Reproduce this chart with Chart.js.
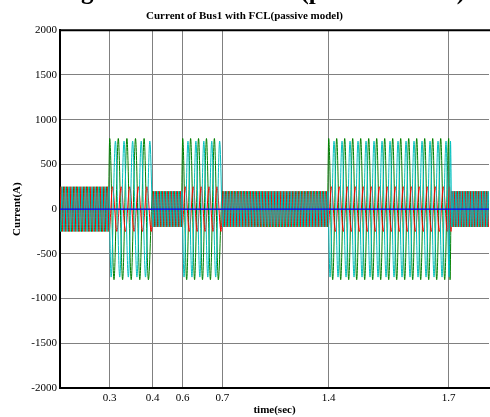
<!DOCTYPE html>
<html>
<head>
<meta charset="utf-8">
<script src="https://cdn.jsdelivr.net/npm/chart.js@4.4.0/dist/chart.umd.min.js"></script>
<style>
body { margin: 0; background: #fff; }
#wrap { width: 490px; height: 417px; }
</style>
</head>
<body>
<div id="wrap"><canvas id="buscurrent"></canvas></div>
<script>
// time axis labels (sec)
var tickTimes = [0.3, 0.4, 0.6, 0.7, 1.4, 1.7];
var tickLabels = ['0.3', '0.4', '0.6', '0.7', '1.4', '1.7'];

// intervals (sec): normal, fault, normal, fault, normal, fault, normal
var segStart = [0, 0.3, 0.4, 0.6, 0.7, 1.4, 1.72];
var segEnd = [0.3, 0.4, 0.6, 0.7, 1.4, 1.72, 2.0];

// peak current of each phase in each interval (A)
var greenPeak = [250, 790, 200, 790, 200, 790, 200];
var redPeak = [250, 250, 200, 250, 200, 250, 200];
var cyanPeak = [250, 760, 200, 760, 200, 760, 200];

// blue trace stays on zero
var blueTimes = [0, 2.0];
var blueValues = [0, 0];

var freq = 50;

// the time axis of the figure is stretched around the faults
var knotTimes = [0, 0.3, 0.4, 0.6, 0.7, 1.4, 1.7, 2.0];
var knotPos = [0, 49.7, 92.7, 122.7, 162.3, 268.7, 388.7, 429];

function toAxis(t) {
    var i = 0;
    while (i < knotTimes.length - 2 && t > knotTimes[i + 1]) i++;
    var f = (t - knotTimes[i]) / (knotTimes[i + 1] - knotTimes[i]);
    return knotPos[i] + f * (knotPos[i + 1] - knotPos[i]);
}

function segIndex(t) {
    for (var i = 0; i < segStart.length; i++) {
        if (t >= segStart[i] && t < segEnd[i]) return i;
    }
    return t < 0 ? 0 : segStart.length - 1;
}

// one point per half cycle, at the peaks
function phaseSeries(peaks, shift) {
    var half = 1 / freq / 2;
    var pts = [];
    for (var k = -2; ; k++) {
        var t = shift + k * half;
        var sign = (k % 2 === 0) ? 1 : -1;
        pts.push({ x: toAxis(t), y: sign * peaks[segIndex(t)] });
        if (t > 2.0) break;
    }
    return pts;
}

var period = 1 / freq;
var serif = '"Liberation Serif", "Times New Roman", serif';

var framePlugin = {
    id: 'frame',
    afterDraw: function (chart) {
        var a = chart.chartArea;
        var ctx = chart.ctx;
        ctx.save();
        ctx.strokeStyle = '#000';
        ctx.lineWidth = 2;
        ctx.beginPath();
        ctx.moveTo(a.left - 1, a.top);
        ctx.lineTo(a.right + 1, a.top);
        ctx.stroke();
        // caption of the figure above, cut off by the crop
        ctx.fillStyle = '#000';
        ctx.font = 'bold 25px ' + serif;
        ctx.textAlign = 'center';
        ctx.textBaseline = 'alphabetic';
        ctx.fillText('Voltage of Bus1 with FCL(passive model)', 245, -1);
        ctx.restore();
    }
};

var ctx1 = document.getElementById('buscurrent');
var chart1 = new Chart(ctx1, {
    type: 'line',
    data: {
        datasets: [{
            label: 'zero',
            data: blueTimes.map(function (t, i) { return { x: toAxis(t), y: blueValues[i] }; }),
            borderColor: '#0000ff',
            borderWidth: 1.2
        }, {
            label: 'phase c',
            data: phaseSeries(cyanPeak, 2 * period / 3),
            borderColor: '#00bfbf'
        }, {
            label: 'phase b',
            data: phaseSeries(redPeak, period / 3),
            borderColor: '#ff0000'
        }, {
            label: 'phase a',
            data: phaseSeries(greenPeak, 0),
            borderColor: '#008000'
        }]
    },
    options: {
        responsive: true,
        maintainAspectRatio: false,
        animation: false,
        layout: { padding: { right: 1 } },
        elements: {
            point: { radius: 0 },
            line: { borderWidth: 1, cubicInterpolationMode: 'monotone' }
        },
        plugins: {
            legend: { display: false },
            tooltip: { enabled: false },
            title: {
                display: true,
                text: 'Current of Bus1 with FCL(passive model)',
                color: '#000',
                font: { family: serif, size: 11, weight: 'bold' },
                padding: { top: 10, bottom: 7 }
            }
        },
        scales: {
            x: {
                type: 'linear',
                min: 0,
                max: 429,
                afterBuildTicks: function (axis) {
                    axis.ticks = tickTimes.map(function (t) { return { value: toAxis(t) }; });
                },
                afterFit: function (axis) { axis.height = 29; },
                ticks: {
                    autoSkip: false,
                    maxRotation: 0,
                    padding: 4,
                    color: '#000',
                    font: { family: serif, size: 11 },
                    callback: function (v, i) { return tickLabels[i]; }
                },
                grid: { color: '#808080', lineWidth: 1, drawTicks: false },
                border: { color: '#000', width: 2 },
                title: {
                    display: true,
                    text: 'time(sec)',
                    color: '#000',
                    font: { family: serif, size: 11, weight: 'bold' },
                    padding: { top: 0, bottom: 0 }
                }
            },
            y: {
                min: -2000,
                max: 2000,
                afterFit: function (axis) { axis.width = 60; },
                ticks: {
                    stepSize: 500,
                    padding: 3,
                    color: '#000',
                    font: { family: serif, size: 11 },
                    callback: function (v) { return String(v); }
                },
                grid: { color: '#808080', lineWidth: 1, drawTicks: false },
                border: { color: '#000', width: 2 },
                title: {
                    display: true,
                    text: 'Current(A)',
                    color: '#000',
                    font: { family: serif, size: 11, weight: 'bold' },
                    padding: { top: 11, bottom: 0 }
                }
            }
        }
    },
    plugins: [framePlugin]
});
</script>
</body>
</html>
